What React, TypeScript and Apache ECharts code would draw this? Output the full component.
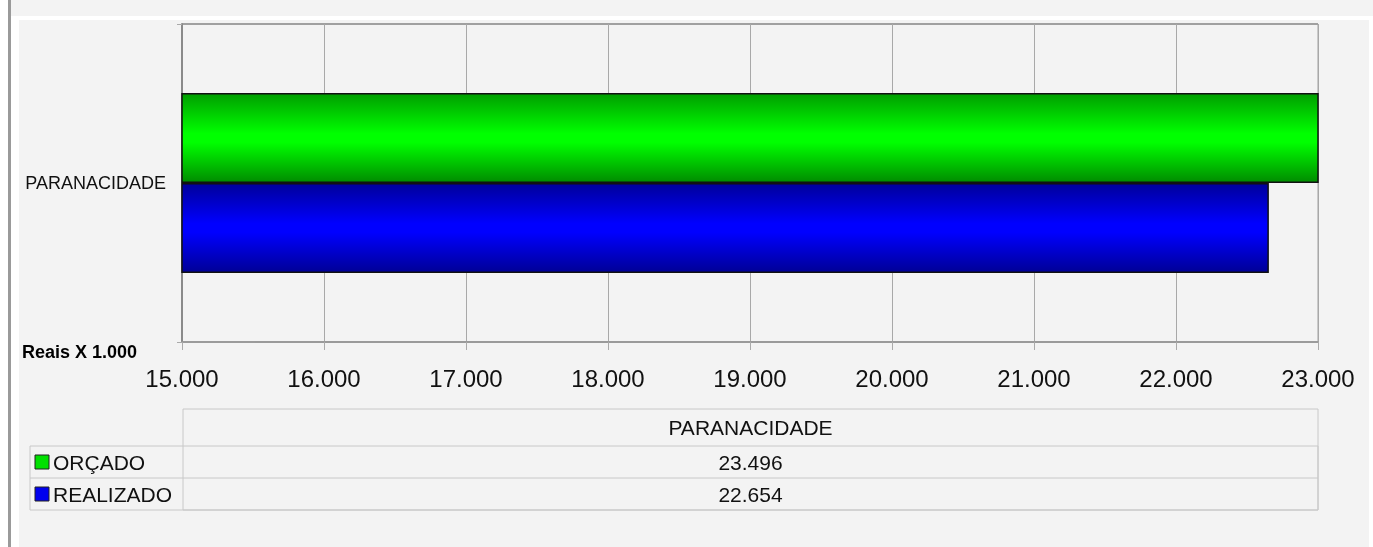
import React, { useEffect, useRef } from "react";
import * as echarts from "echarts";

const categories = ["PARANACIDADE"];
const seriesNames = ["ORÇADO", "REALIZADO"];
const orcado = [23496];
const realizado = [22654];
const axisMin = 15000;
const axisMax = 23000;
const axisInterval = 1000;
const unitLabel = "Reais X 1.000";

const fmt = (v: number) =>
  String(Math.round(v)).replace(/\B(?=(\d{3})+(?!\d))/g, ".");

const FONT = "'Liberation Sans', Arial, sans-serif";

export default function App() {
  const ref = useRef<HTMLDivElement>(null);
  useEffect(() => {
    document.body.style.margin = "0";
    const chart = echarts.init(ref.current!, undefined, { renderer: "svg" });
    const greenGrad = new echarts.graphic.LinearGradient(0, 0, 0, 1, [
      { offset: 0, color: "#009e00" },
      { offset: 0.45, color: "#00ff00" },
      { offset: 0.55, color: "#00ff00" },
      { offset: 1, color: "#008c00" },
    ]);
    const blueGrad = new echarts.graphic.LinearGradient(0, 0, 0, 1, [
      { offset: 0, color: "#00009a" },
      { offset: 0.45, color: "#0000ff" },
      { offset: 0.55, color: "#0000ff" },
      { offset: 1, color: "#000096" },
    ]);
    const line = "#c8c8c8";
    const tblLeft = 30, colX = 183, tblRight = 1318;
    const hdrTop = 409, r1 = 446, r2 = 478, r3 = 510;
    const midX = (colX + tblRight) / 2;
    const rowVals = [orcado[0], realizado[0]];
    const rowColors = ["#00e000", "#0000ee"];
    const rowYs = [(r1 + r2) / 2, (r2 + r3) / 2];

    const graphics: any[] = [
      { type: "rect", z: -10, shape: { x: 0, y: 0, width: 1373, height: 547 }, style: { fill: "#ffffff" }, silent: true },
      { type: "rect", z: -9, shape: { x: 11, y: 0, width: 1362, height: 16 }, style: { fill: "#f3f3f3" }, silent: true },
      { type: "rect", z: -9, shape: { x: 19, y: 20, width: 1350, height: 527 }, style: { fill: "#f3f3f3" }, silent: true },
      { type: "rect", z: -9, shape: { x: 8, y: 0, width: 3, height: 547 }, style: { fill: "#9a9a9a" }, silent: true },
      {
        type: "text", left: 22, top: 343,
        style: { text: unitLabel, font: `bold 18px ${FONT}`, fill: "#000" },
      },
      { type: "rect", shape: { x: colX, y: hdrTop, width: tblRight - colX, height: r3 - hdrTop }, style: { fill: "none", stroke: line, lineWidth: 1 } },
      { type: "rect", shape: { x: tblLeft, y: r1, width: tblRight - tblLeft, height: r3 - r1 }, style: { fill: "none", stroke: line, lineWidth: 1 } },
      { type: "line", shape: { x1: tblLeft, y1: r2, x2: tblRight, y2: r2 }, style: { stroke: line, lineWidth: 1 } },
      {
        type: "text", x: midX, y: (hdrTop + r1) / 2,
        style: { text: categories[0], font: `21px ${FONT}`, fill: "#111", align: "center", verticalAlign: "middle" },
      },
    ];
    seriesNames.forEach((name, i) => {
      graphics.push(
        { type: "rect", shape: { x: 35, y: rowYs[i] - 7, width: 14, height: 14 }, style: { fill: rowColors[i], stroke: "#222", lineWidth: 1 } },
        { type: "text", x: 53, y: rowYs[i], style: { text: name, font: `21px ${FONT}`, fill: "#111", verticalAlign: "middle" } },
        { type: "text", x: midX, y: rowYs[i], style: { text: fmt(rowVals[i]), font: `21px ${FONT}`, fill: "#111", align: "center", verticalAlign: "middle" } }
      );
    });

    chart.setOption({
      animation: false,
      backgroundColor: "transparent",
      grid: {
        left: 182, right: 55, top: 24, bottom: 205, containLabel: false,
        show: true, borderColor: "#a0a0a0", borderWidth: 1,
      },
      xAxis: {
        type: "value", min: axisMin, max: axisMax, interval: axisInterval,
        axisLine: { show: true, lineStyle: { color: "#999", width: 1.5 } },
        axisTick: { show: true, length: 8, lineStyle: { color: "#aaa" } },
        axisLabel: { formatter: (v: number) => fmt(v), fontSize: 24, color: "#111", margin: 24, fontFamily: FONT },
        splitLine: { show: true, lineStyle: { color: "#a8a8a8", width: 1 } },
      },
      yAxis: {
        type: "category", data: categories,
        axisLine: { show: true, lineStyle: { color: "#8a8a8a", width: 2 } },
        axisTick: { show: true, length: 5, lineStyle: { color: "#aaa" } },
        axisLabel: { fontSize: 18, color: "#111", margin: 16, fontFamily: FONT },
        splitLine: { show: true, lineStyle: { color: "#a0a0a0", width: 2 } },
      },
      series: [
        {
          name: seriesNames[0], type: "bar", data: orcado,
          barCategoryGap: "43.4%", barGap: "0%",
          itemStyle: { color: greenGrad, borderColor: "#111", borderWidth: 1.5 },
        },
        {
          name: seriesNames[1], type: "bar", data: realizado,
          barCategoryGap: "43.4%", barGap: "0%",
          itemStyle: { color: blueGrad, borderColor: "#111", borderWidth: 1.5 },
        },
      ],
      graphic: graphics,
    });
    return () => chart.dispose();
  }, []);
  return (
    <div
      ref={ref}
      style={{ position: "fixed", left: 0, top: 0, width: 1373, height: 547 }}
    />
  );
}
